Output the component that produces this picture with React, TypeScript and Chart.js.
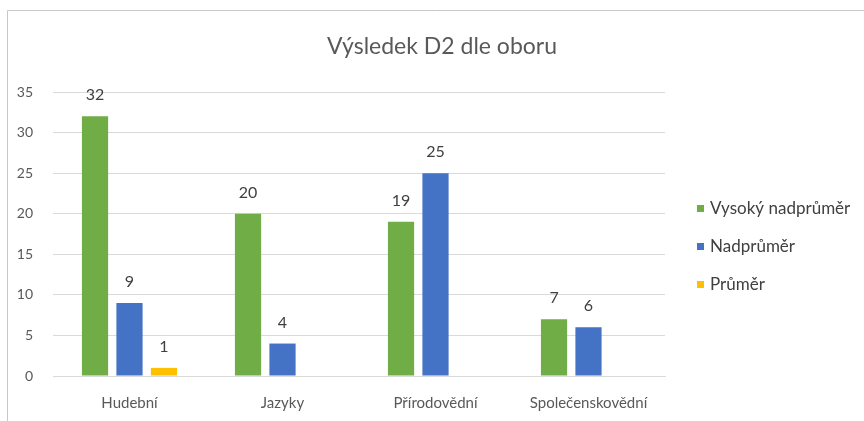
import React, { useEffect, useRef } from "react";
import { Chart, registerables } from "chart.js";

Chart.register(...registerables);

const chartTitle = "Výsledek D2 dle oboru";
const categories = ["Hudební", "Jazyky", "Přírodovědní", "Společenskovědní"];
const seriesNames = ["Vysoký nadprůměr", "Nadprůměr", "Průměr"];
const vysokyNadprumer = [32, 20, 19, 7];
const nadprumer = [9, 4, 25, 6];
const prumer = [1, null, null, null];
const seriesColors = ["#70AD47", "#4472C4", "#FFC000"];
const yTicks = [0, 5, 10, 15, 20, 25, 30, 35];

const FONT = "Lato, 'Open Sans', sans-serif";

const framePlugin = {
  id: "frame",
  beforeDraw(chart: any) {
    const { ctx, width, height } = chart;
    ctx.save();
    ctx.fillStyle = "#ffffff";
    ctx.fillRect(0, 0, width, height);
    ctx.strokeStyle = "#c8c8c8";
    ctx.lineWidth = 1;
    ctx.beginPath();
    ctx.moveTo(7.5, height);
    ctx.lineTo(7.5, 10.5);
    ctx.lineTo(width, 10.5);
    ctx.stroke();
    ctx.restore();
  },
};

const titlePlugin = {
  id: "customTitle",
  afterDraw(chart: any) {
    const { ctx, width } = chart;
    ctx.save();
    ctx.font = `23px ${FONT}`;
    ctx.fillStyle = "#595959";
    ctx.textAlign = "center";
    ctx.textBaseline = "middle";
    ctx.fillText(chartTitle, width / 2 + 10, 47);
    ctx.restore();
  },
};

const dataLabelPlugin = {
  id: "dataLabels",
  afterDatasetsDraw(chart: any) {
    const { ctx } = chart;
    ctx.save();
    ctx.font = `16px ${FONT}`;
    ctx.fillStyle = "#404040";
    ctx.textAlign = "center";
    ctx.textBaseline = "middle";
    chart.data.datasets.forEach((ds: any, i: number) => {
      const meta = chart.getDatasetMeta(i);
      meta.data.forEach((bar: any, j: number) => {
        const v = ds.data[j];
        if (v === null || v === undefined) return;
        ctx.fillText(String(v), bar.x, bar.y - 21);
      });
    });
    ctx.restore();
  },
};

const legendPlugin = {
  id: "customLegend",
  afterDraw(chart: any) {
    const { ctx, chartArea } = chart;
    const x = chartArea.right + 32;
    const midY = (chartArea.top + chartArea.bottom) / 2 + 13;
    const spacing = 38;
    ctx.save();
    ctx.font = `17px ${FONT}`;
    ctx.textAlign = "left";
    ctx.textBaseline = "middle";
    chart.data.datasets.forEach((ds: any, i: number) => {
      const y = midY + (i - 1) * spacing;
      ctx.fillStyle = ds.backgroundColor;
      ctx.fillRect(x, y - 4, 7, 7);
      ctx.fillStyle = "#404040";
      ctx.fillText(ds.label, x + 13, y);
    });
    ctx.restore();
  },
};

export default function App() {
  const canvasRef = useRef<HTMLCanvasElement | null>(null);

  useEffect(() => {
    if (!canvasRef.current) return;
    const chart = new Chart(canvasRef.current, {
      type: "bar",
      data: {
        labels: categories,
        datasets: [
          { label: seriesNames[0], data: vysokyNadprumer, backgroundColor: seriesColors[0] },
          { label: seriesNames[1], data: nadprumer, backgroundColor: seriesColors[1] },
          { label: seriesNames[2], data: prumer as any, backgroundColor: seriesColors[2] },
        ],
      },
      options: {
        responsive: false,
        animation: false,
        events: [],
        layout: { padding: { left: 0, top: 92, right: 199, bottom: 0 } },
        datasets: {
          bar: { categoryPercentage: 0.676, barPercentage: 0.76 },
        } as any,
        plugins: {
          legend: { display: false },
          title: { display: false },
          tooltip: { enabled: false },
        },
        scales: {
          x: {
            grid: { display: false, drawTicks: false },
            border: { display: true, color: "#d9d9d9" },
            ticks: {
              color: "#595959",
              font: { family: FONT, size: 15 },
              padding: 18,
              maxRotation: 0,
            },
            afterFit(scale: any) {
              scale.height = 45;
            },
          },
          y: {
            min: 0,
            max: 35,
            afterBuildTicks(scale: any) {
              scale.ticks = yTicks.map((v) => ({ value: v }));
            },
            grid: { color: "#d9d9d9", drawTicks: false },
            border: { display: false },
            ticks: {
              color: "#595959",
              font: { family: FONT, size: 14 },
              padding: 20,
            },
            afterFit(scale: any) {
              scale.width = 53;
            },
          },
        },
      },
      plugins: [framePlugin, titlePlugin, dataLabelPlugin, legendPlugin],
    });
    return () => chart.destroy();
  }, []);

  return (
    <div
      style={{
        position: "fixed",
        left: 0,
        top: 0,
        width: 864,
        height: 421,
        background: "#ffffff",
        overflow: "hidden",
      }}
    >
      <canvas ref={canvasRef} width={864} height={421} style={{ width: 864, height: 421, display: "block" }} />
    </div>
  );
}
